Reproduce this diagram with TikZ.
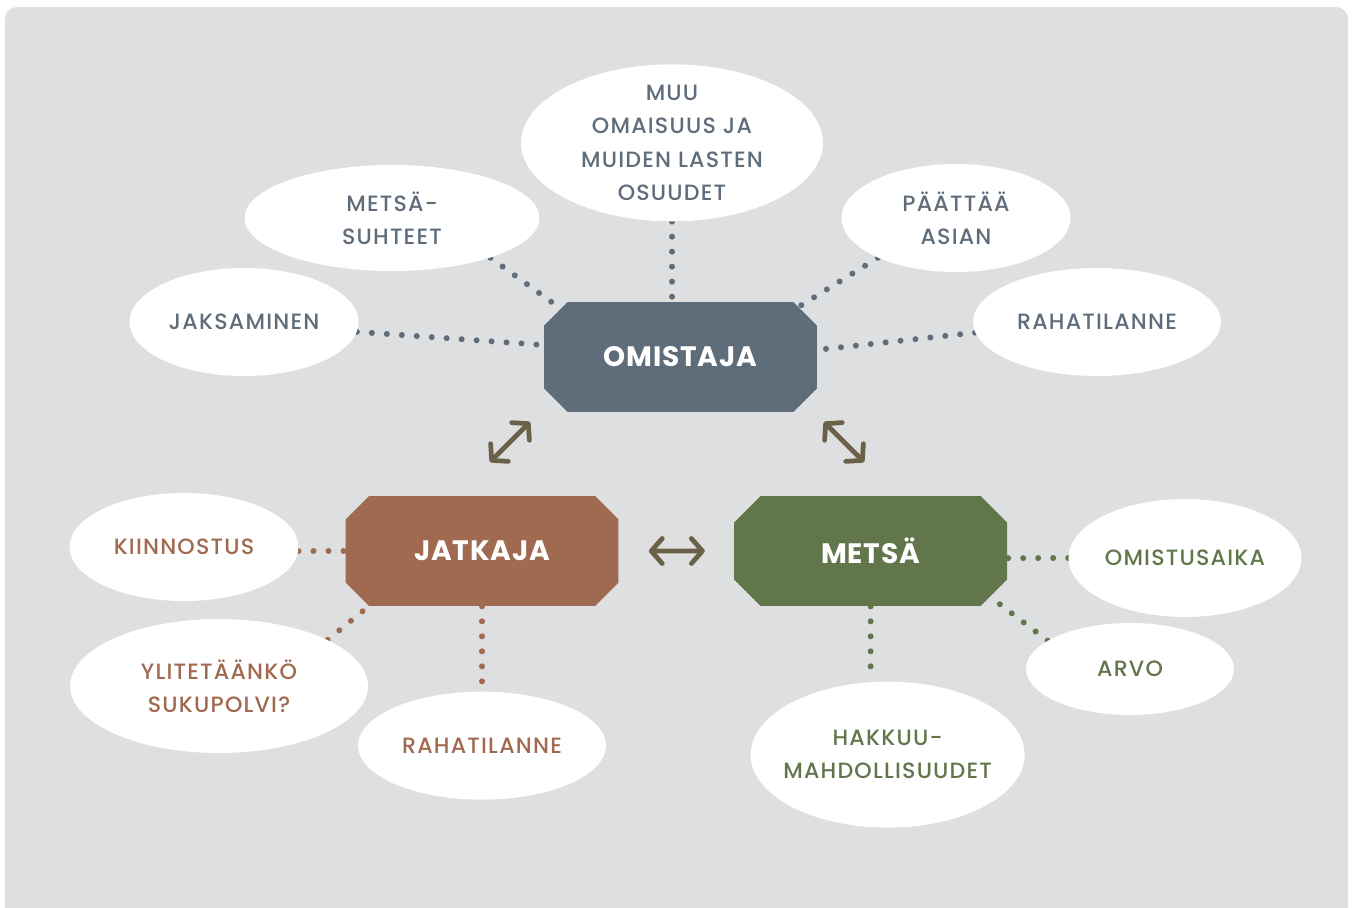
\documentclass[tikz,border=0pt]{standalone}
\usepackage{fontspec}
\setmainfont{Poppins}[LetterSpace=5]
\newfontfamily\medfont{Poppins Medium}[LetterSpace=5.5]
\newfontfamily\octfont{Poppins}[LetterSpace=3]
\usetikzlibrary{positioning,shapes,arrows.meta,backgrounds,calc}
\definecolor{bggrey}{RGB}{222,223,224}
\definecolor{slate}{RGB}{95,109,123}
\definecolor{rust}{RGB}{160,106,80}
\definecolor{moss}{RGB}{98,118,76}
\definecolor{olive}{RGB}{107,97,72}
\tikzstyle{octa}=[chamfered rectangle, chamfered rectangle xsep=0.27cm, chamfered rectangle ysep=0.27cm
, minimum width=5.46cm, minimum height=2.2cm, inner sep=0pt, text=white, font=\octfont\fontsize{16}{18}\selectfont\bfseries]
\tikzstyle{bubble}=[ellipse, fill=white, inner sep=0pt]
\tikzstyle{otext}=[text=slate, align=center, font=\medfont\fontsize{12.6}{19}\selectfont]
\tikzstyle{jtext}=[otext, text=rust]
\tikzstyle{mtext}=[otext, text=moss]
\tikzstyle{odots}=[line width=0.12cm, line cap=round, dash pattern=on 0pt off 0.3cm, slate]
\tikzstyle{jdots}=[odots, rust]
\tikzstyle{mdots}=[odots, moss]
\tikzstyle{dline}=[<->, >={Straight Barb[length=0.22cm, width=0.5cm, round]}, line width=0.095cm, olive]

\begin{document}
\begin{tikzpicture}[x=0.02cm, y=-0.02cm]
    \useasboundingbox (0,0) rectangle (1353,908);
    \begin{scope}[on background layer]
        \fill[bggrey, rounded corners=0.24cm] (5,7) rectangle (1348,930);
    \end{scope}

    \node (om) [octa, fill=slate] at (680.5,357) {OMISTAJA};
    \node (jat) [octa, fill=rust] at (482,551) {JATKAJA};
    \node (met) [octa, fill=moss, right=2.3cm of jat] {METSÄ};

% Omistaja
    \node (muu) [bubble, minimum width=6.04cm, minimum height=3.14cm, above=1.6cm of om, xshift=-0.17cm
	, label={[otext]center:MUU\\OMAISUUS JA\\MUIDEN LASTEN\\OSUUDET}] {};
    \node (ms) [bubble, minimum width=5.9cm, minimum height=2.12cm, label={[otext]center:METSÄ-\\SUHTEET}] at (392,218) {};
    \node (paa) [bubble, minimum width=4.58cm, minimum height=2.16cm, label={[otext]center:PÄÄTTÄÄ\\ASIAN}] at (956,218) {};
    \node (jak) [bubble, minimum width=4.58cm, minimum height=2.16cm, label={[otext]center:JAKSAMINEN}] at (244,322) {};
    \node (rah1) [bubble, minimum width=4.96cm, minimum height=2.16cm, label={[otext]center:RAHATILANNE}] at (1097,322) {};

% Jatkaja
    \node (kii) [bubble, minimum width=4.58cm, minimum height=2.16cm, label={[jtext]center:KIINNOSTUS}] at (184,547) {};
    \node (yli) [bubble, minimum width=5.96cm, minimum height=2.68cm, label={[jtext]center:YLITETÄÄNKÖ\\SUKUPOLVI?}] at (219,686) {};
    \node (rah2) [bubble, minimum width=4.96cm, minimum height=2.16cm, below=1.7cm of jat, label={[jtext]center:RAHATILANNE}] {};

% Metsa
    \node (oma) [bubble, minimum width=4.66cm, minimum height=2.36cm, label={[mtext]center:OMISTUSAIKA}] at (1185,558) {};
    \node (arvo) [bubble, minimum width=4.16cm, minimum height=1.84cm, label={[mtext]center:ARVO}] at (1130,669) {};
    \node (hak) [bubble, minimum width=5.48cm, minimum height=2.92cm, below=1.5cm of met, xshift=0.34cm
	, label={[mtext]center:HAKKUU-\\MAHDOLLISUUDET}] {};

% dotted lines
    \begin{scope}[on background layer]
   \draw[odots] (ms.-22) -- (om.158);
   \draw[odots] (jak.-5) -- (om.175);
   \draw[odots] (paa.207) -- (om.23);
   \draw[odots] (rah1.185) -- (om.3);
   \draw[odots] (muu.south) -- (muu.south |- om.north);

   \draw[jdots] (kii.-2) -- (jat.west);
   \draw[jdots] (yli.23) -- (jat.206);
   \draw[jdots] (jat.south) -- (rah2.north);

   \draw[mdots] (oma.west) -- (met.-3);
   \draw[mdots] (arvo.161) -- (met.-21);
   \draw[mdots] (met.south) -- (met.south |- hak.north);
    \end{scope}

% arrows
    \coordinate (oj1) at (530,422);
    \coordinate (oj2) at (490,462);
    \coordinate (om1) at (824,422);
    \coordinate (om2) at (864,462);
   \draw[dline] (oj1) -- (oj2);
   \draw[dline] (om1) -- (om2);
   \draw[dline, shorten <=0.6cm, shorten >=0.58cm] (jat) -- (met);
\end{tikzpicture}
\end{document}
